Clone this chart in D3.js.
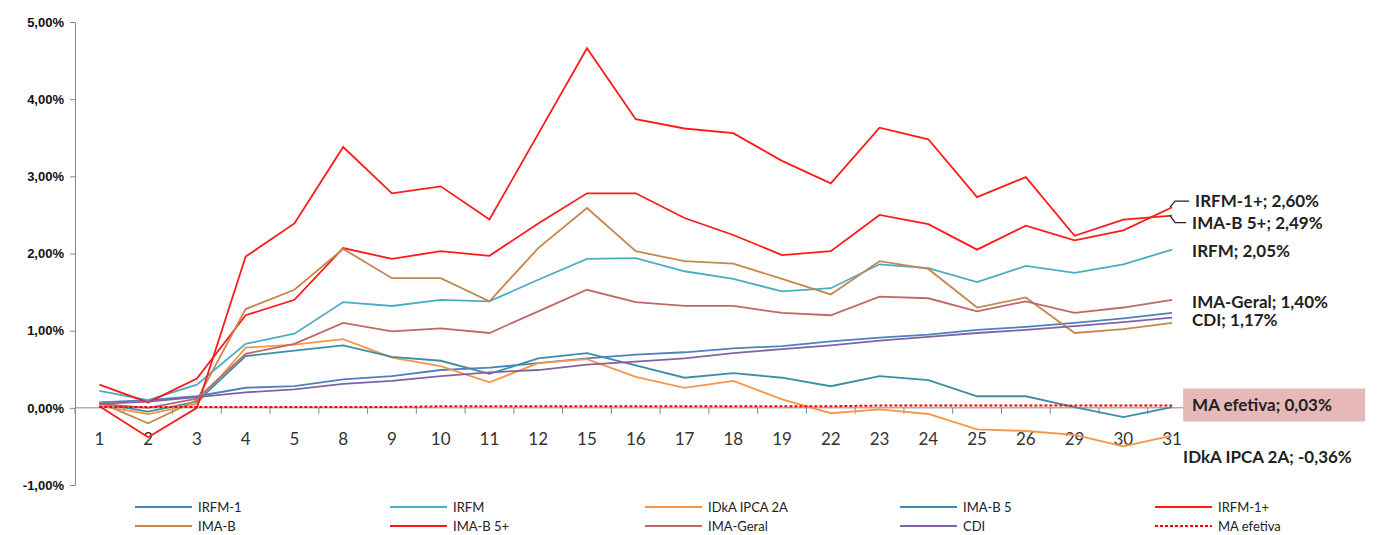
<!DOCTYPE html>
<html>
<head>
  <meta charset="utf-8">
  <title>Rentabilidade</title>
  <script src="https://d3js.org/d3.v7.min.js"></script>
  <style>
    body { margin: 0; background: #fff; }
    svg { display: block; font-family: Lato, 'Open Sans', sans-serif; }
  </style>
</head>
<body>
  <script>
    // dias uteis do mes
    const categories = ['1', '2', '3', '4', '5', '8', '9', '10', '11', '12', '15', '16',
      '17', '18', '19', '22', '23', '24', '25', '26', '29', '30', '31'];

    const yTicks = [-1, 0, 1, 2, 3, 4, 5];

    // rentabilidade acumulada, em %
    const irfm1 = [0.07, 0.10, 0.15, 0.26, 0.28, 0.37, 0.41, 0.49, 0.52, 0.58, 0.64, 0.69,
      0.72, 0.77, 0.80, 0.86, 0.91, 0.95, 1.01, 1.05, 1.10, 1.16, 1.23];
    const irfm = [0.22, 0.10, 0.30, 0.83, 0.96, 1.37, 1.32, 1.40, 1.38, 1.66, 1.93, 1.94,
      1.77, 1.67, 1.51, 1.55, 1.86, 1.81, 1.63, 1.84, 1.75, 1.86, 2.05];
    const idka2a = [0.03, -0.08, 0.05, 0.78, 0.82, 0.89, 0.65, 0.54, 0.33, 0.58, 0.63, 0.40,
      0.26, 0.35, 0.11, -0.07, -0.02, -0.08, -0.28, -0.30, -0.35, -0.50, -0.36];
    const imab5 = [0.06, -0.05, 0.08, 0.67, 0.74, 0.81, 0.66, 0.61, 0.44, 0.64, 0.71, 0.55,
      0.39, 0.45, 0.39, 0.28, 0.41, 0.36, 0.15, 0.15, 0.01, -0.12, 0.01];
    const irfm1plus = [0.30, 0.07, 0.38, 1.20, 1.40, 2.07, 1.93, 2.03, 1.97, 2.39, 2.78, 2.78,
      2.46, 2.24, 1.98, 2.03, 2.50, 2.38, 2.05, 2.36, 2.17, 2.30, 2.60];
    const imab = [0.07, -0.20, 0.10, 1.28, 1.53, 2.06, 1.68, 1.68, 1.38, 2.07, 2.59, 2.03,
      1.90, 1.87, 1.67, 1.47, 1.90, 1.80, 1.30, 1.43, 0.97, 1.02, 1.10];
    const imab5plus = [0.02, -0.38, 0.00, 1.96, 2.39, 3.38, 2.78, 2.87, 2.44, 3.55, 4.66, 3.74,
      3.62, 3.56, 3.20, 2.91, 3.63, 3.48, 2.73, 2.99, 2.23, 2.44, 2.49];
    const imaGeral = [0.05, 0.00, 0.12, 0.70, 0.83, 1.10, 0.99, 1.03, 0.97, 1.25, 1.53, 1.37,
      1.32, 1.32, 1.23, 1.20, 1.44, 1.42, 1.25, 1.38, 1.23, 1.30, 1.40];
    const cdi = [0.05, 0.08, 0.14, 0.20, 0.24, 0.31, 0.35, 0.41, 0.46, 0.49, 0.56, 0.60,
      0.64, 0.71, 0.76, 0.81, 0.87, 0.92, 0.97, 1.01, 1.06, 1.11, 1.17];
    const maEfetiva = [0.01, 0.01, 0.01, 0.01, 0.01, 0.01, 0.01, 0.02, 0.02, 0.02, 0.02, 0.02,
      0.02, 0.02, 0.02, 0.02, 0.03, 0.03, 0.03, 0.03, 0.03, 0.03, 0.03];

    const series = [
      { name: 'IRFM-1', values: irfm1, color: '#4f81bd' },
      { name: 'IRFM', values: irfm, color: '#4bacc6' },
      { name: 'IDkA IPCA 2A', values: idka2a, color: '#f79646' },
      { name: 'IMA-B 5', values: imab5, color: '#3b8ea5' },
      { name: 'IRFM-1+', values: irfm1plus, color: '#ff1a1a' },
      { name: 'IMA-B', values: imab, color: '#c4884f' },
      { name: 'IMA-B 5+', values: imab5plus, color: '#ff1a1a' },
      { name: 'IMA-Geral', values: imaGeral, color: '#c06868' },
      { name: 'CDI', values: cdi, color: '#8064a2' },
      { name: 'MA efetiva', values: maEfetiva, color: '#ff0000', dash: '3,2' },
    ];

    // formato brasileiro, com hifen como sinal de menos
    const ptBR = d3.formatLocale({
      decimal: ',', thousands: '.', grouping: [3], currency: ['R$', ''], minus: '-',
    });
    const fmt = v => ptBR.format('.2f')(v) + '%';

    const W = 1379, H = 535;
    const svg = d3.select('body').append('svg')
      .attr('width', W)
      .attr('height', H);

    const x = d3.scalePoint()
      .domain(categories)
      .range([75, 1196.5])
      .padding(0.5);

    const y = d3.scaleLinear()
      .domain([-1, 5])
      .range([485, 22]);

    // eixo y
    const yAxis = svg.append('g')
      .attr('transform', 'translate(75,0)')
      .call(d3.axisLeft(y).tickValues(yTicks).tickSize(5).tickPadding(6).tickFormat(fmt));
    yAxis.select('.domain').attr('stroke', '#868686');
    yAxis.selectAll('.tick line').attr('stroke', '#868686');
    yAxis.selectAll('.tick text')
      .attr('font-size', 13)
      .attr('font-weight', 'bold')
      .attr('fill', '#111');

    // eixo x no zero, marcas entre as categorias
    const step = x.step();
    const xAxis = svg.append('g').attr('class', 'x-axis');
    xAxis.append('line')
      .attr('x1', 75).attr('x2', 1196.5)
      .attr('y1', y(0)).attr('y2', y(0))
      .attr('stroke', '#868686');
    xAxis.selectAll('line.tk')
      .data(d3.range(categories.length + 1))
      .join('line')
      .attr('class', 'tk')
      .attr('x1', i => 75 + i * step).attr('x2', i => 75 + i * step)
      .attr('y1', y(0)).attr('y2', y(0) + 6)
      .attr('stroke', '#868686');
    xAxis.selectAll('text')
      .data(categories)
      .join('text')
      .attr('x', d => x(d))
      .attr('y', y(0) + 37)
      .attr('text-anchor', 'middle')
      .attr('font-size', 17)
      .attr('fill', '#333')
      .text(d => d);

    const line = d3.line()
      .x((d, i) => x(categories[i]))
      .y(d => y(d));

    svg.append('g')
      .selectAll('path')
      .data(series)
      .join('path')
      .attr('fill', 'none')
      .attr('stroke', d => d.color)
      .attr('stroke-width', d => d.dash ? 2 : 1.8)
      .attr('stroke-dasharray', d => d.dash || null)
      .attr('d', d => line(d.values));

    // rotulos do ultimo ponto
    const last = categories.length - 1;
    const xEnd = x(categories[last]);
    const byName = n => series.find(s => s.name === n);
    const labels = [
      { name: 'IRFM-1+', dx: 23, dy: -6, leader: true },
      { name: 'IMA-B 5+', dx: 20, dy: 7, leader: true },
      { name: 'IRFM', dx: 20, dy: 1 },
      { name: 'IMA-Geral', dx: 20, dy: 2 },
      { name: 'CDI', dx: 20, dy: 3 },
      { name: 'IDkA IPCA 2A', dx: 11, dy: 21 },
    ];

    const lab = svg.append('g')
      .attr('font-size', 17)
      .attr('font-weight', 'bold')
      .attr('fill', '#222');

    labels.forEach(l => {
      const s = byName(l.name);
      const v = s.values[last];
      const py = y(v);
      if (l.leader) {
        lab.append('path')
          .attr('fill', 'none')
          .attr('stroke', '#222')
          .attr('stroke-width', 1.3)
          .attr('d', d3.line()([[xEnd - 2, py], [xEnd + 3, py + l.dy], [xEnd + l.dx - 6, py + l.dy]]));
      }
      lab.append('text')
        .attr('x', xEnd + l.dx)
        .attr('y', py + l.dy)
        .attr('dy', '0.35em')
        .text(`${l.name}; ${fmt(v)}`);
    });

    // MA efetiva com caixa
    const ma = byName('MA efetiva');
    const maY = y(ma.values[last]);
    lab.append('rect')
      .attr('x', xEnd + 11).attr('y', maY - 17)
      .attr('width', 182).attr('height', 33)
      .attr('fill', '#e6b9b8');
    lab.append('text')
      .attr('x', xEnd + 20)
      .attr('y', maY)
      .attr('dy', '0.35em')
      .text(`${ma.name}; ${fmt(ma.values[last])}`);

    // legenda
    const legend = svg.append('g')
      .selectAll('g')
      .data(series)
      .join('g')
      .attr('transform', (d, i) => `translate(${135 + (i % 5) * 255},${507 + Math.floor(i / 5) * 19})`);
    legend.append('line')
      .attr('x1', 0).attr('x2', 57)
      .attr('stroke', d => d.color)
      .attr('stroke-width', 2)
      .attr('stroke-dasharray', d => d.dash || null);
    legend.append('text')
      .attr('x', 63)
      .attr('dy', '0.35em')
      .attr('font-size', 13)
      .attr('fill', '#222')
      .text(d => d.name);
  </script>
</body>
</html>
